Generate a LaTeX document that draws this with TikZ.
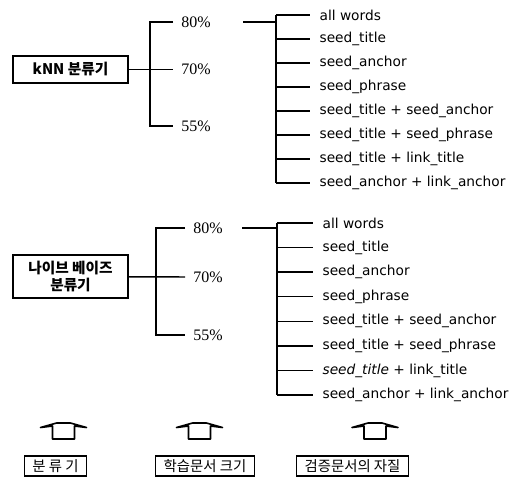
\documentclass[tikz,border=0pt]{standalone}
\usepackage{fontspec}
\setmainfont{Liberation Serif}
\newfontfamily\krfont{Noto Sans CJK KR}
\newfontfamily\featfont{DejaVu Sans}
\usetikzlibrary{positioning, calc}

\begin{document}
\begin{tikzpicture}[x=0.75pt, y=0.75pt,
    box/.style={rectangle, draw, line width=1.4pt, minimum width=86pt, inner sep=1pt, align=center, font=\krfont\bfseries\fontsize{11}{13}\selectfont},
    tagbox/.style={rectangle, draw, line width=1.2pt, minimum height=15pt, inner xsep=6pt, inner ysep=1pt, font=\krfont\fontsize{10.8}{12}\selectfont},
    pct/.style={anchor=west, inner xsep=6pt, inner ysep=1pt, font=\large},
    feat/.style={anchor=west, inner xsep=7pt, inner ysep=1pt, font=\featfont\fontsize{10.3}{12}\selectfont},
    ln/.style={line width=1.1pt},
    uparr/.pic={\draw[line width=1.2pt, line join=round] (-11,-16) -- (-11,-3) -- (-23,-4.5) -- (-7,0) -- (7,0) -- (23,-4.5) -- (11,-3) -- (11,-16) -- cycle;}
]
\useasboundingbox (0,0) rectangle (513,-483);

\node[box, minimum height=20pt] (knn) at (70.5,-69.5) {kNN 분류기};
\coordinate (kb) at (150,-69.5);
\node[pct] (k80) at (173,-22) {80\%};
\node[pct] (k70) at (173,-69.5) {70\%};
\node[pct] (k55) at (173,-126) {55\%};
\draw[ln] (knn) -- (k70.west);
\draw[ln] (k80.west) -| (kb) |- (k55.west);

\coordinate (kr) at (243,-22);
\coordinate (kfb) at (276,-22);
\foreach \t [count=\i from 0] in {all words, seed\_title, seed\_anchor, seed\_phrase,
    seed\_title + seed\_anchor, seed\_title + seed\_phrase, seed\_title + link\_title,
    seed\_anchor + link\_anchor}
  \node[feat] (kf\i) at (310,{-15-24*\i}) {\t};
\draw[ln] (kr) -- (kfb);
\draw[ln] (kfb |- kf0.west) -- (kfb |- kf7.west);
\foreach \i in {0,...,7}
  \draw[ln] (kfb |- kf\i.west) -- (kf\i.west);

\node[box, minimum height=32pt] (nb) at (70.5,-276.5) {나이브 베이즈\\분류기};
\coordinate (nbb) at (156,-277);
\node[pct] (n80) at (185,-228) {80\%};
\node[pct] (n70) at (185,-277) {70\%};
\node[pct] (n55) at (185,-335) {55\%};
\draw[ln] (nb) -- (n70.west);
\draw[ln] (n80.west) -| (nbb) |- (n55.west);

\coordinate (nr) at (242,-228);
\coordinate (nfb) at (277,-228);
\foreach \t [count=\i from 0] in {all words, seed\_title, seed\_anchor, seed\_phrase,
    seed\_title + seed\_anchor, seed\_title + seed\_phrase, \textit{seed\_title} + link\_title,
    seed\_anchor + link\_anchor}
  \node[feat] (nf\i) at (313,{-223-24.57*\i}) {\t};
\draw[ln] (nr) -- (nfb);
\draw[ln] (nfb |- nf0.west) -- (nfb |- nf7.west);
\foreach \i in {0,...,7}
  \draw[ln] (nfb |- nf\i.west) -- (nf\i.west);

\pic (a1) at (63.5,-423) {uparr};
\pic (a2) at (199.5,-423) {uparr};
\pic (a3) at (375,-423) {uparr};

\node[tagbox] (t1) at (55.5,-466) {분 류 기};
\node[tagbox] (t2) at (205,-466) {학습문서 크기};
\node[tagbox] (t3) at (352.5,-466) {검증문서의 자질};

\end{tikzpicture}
\end{document}
